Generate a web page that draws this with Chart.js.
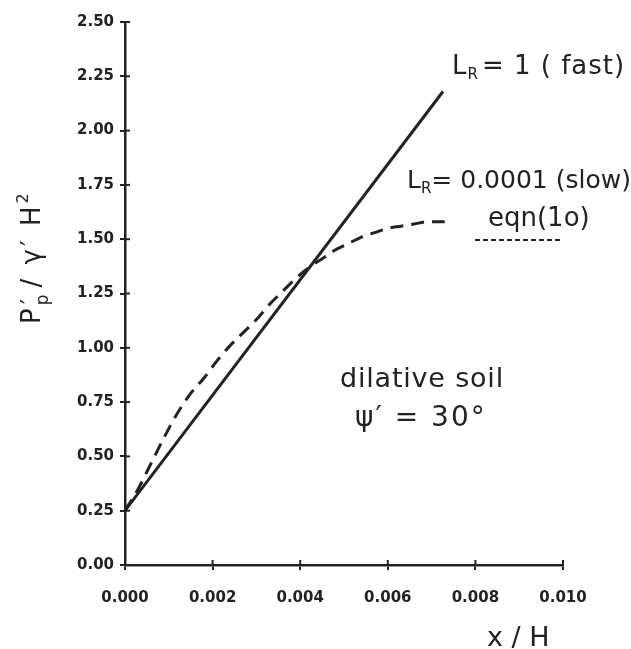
<!DOCTYPE html>
<html>
<head>
<meta charset="utf-8">
<script src="https://cdn.jsdelivr.net/npm/chart.js@4"></script>
<style>
html,body{margin:0;padding:0;background:#fff;}
#wrap{width:631px;height:649px;position:relative;}
</style>
</head>
<body>
<div id="wrap"><canvas id="c"></canvas></div>
<script>
// ---- data ----
const xTicks = [0, 0.002, 0.004, 0.006, 0.008, 0.010];
const yTicks = [0, 0.25, 0.5, 0.75, 1.0, 1.25, 1.5, 1.75, 2.0, 2.25, 2.5];

// L_R = 1 (fast): straight line
const fastX = [0, 0.00726];
const fastY = [0.25, 2.18];

// L_R = 0.0001 (slow): dashed curve
const slowX = [0, 0.0003, 0.0006, 0.0009, 0.0012, 0.0015, 0.0018, 0.0021, 0.0024, 0.0027, 0.0030, 0.0033, 0.0036, 0.0039, 0.0042, 0.0045, 0.0048, 0.0051, 0.0054, 0.0057, 0.0060, 0.0063, 0.0066, 0.0069, 0.0073];
const slowY = [0.25, 0.35, 0.47, 0.59, 0.70, 0.79, 0.86, 0.94, 1.01, 1.07, 1.13, 1.20, 1.26, 1.32, 1.37, 1.41, 1.45, 1.48, 1.51, 1.53, 1.55, 1.56, 1.57, 1.58, 1.58];

const INK = '#222';
const FONT = '"DejaVu Sans", "Liberation Sans", sans-serif';

function pts(xs, ys){ return xs.map((x,i)=>({x:x, y:ys[i]})); }

// draw text made of segments (sub/superscripts)
function drawRich(ctx, x, y, segs, spacing){
  let cx = x;
  ctx.textBaseline = 'alphabetic';
  ctx.textAlign = 'left';
  for (const s of segs){
    ctx.font = (s.w||'normal') + ' ' + s.size + 'px ' + FONT;
    ctx.letterSpacing = (spacing||0) + 'px';
    ctx.fillText(s.t, cx + (s.dx||0), y + (s.dy||0));
    if (!s.noadv) cx += ctx.measureText(s.t).width + (s.extra||0);
  }
  ctx.letterSpacing = '0px';
}

const annot = {
  id: 'annot',
  afterDraw(chart){
    const ctx = chart.ctx;
    const xs = chart.scales.x, ys = chart.scales.y;
    ctx.save();
    // inward half of the cross-shaped tick marks
    ctx.strokeStyle = INK; ctx.lineWidth = 2;
    xTicks.forEach(v=>{ const px = xs.getPixelForValue(v); ctx.beginPath(); ctx.moveTo(px, xs.top); ctx.lineTo(px, xs.top-5); ctx.stroke(); });
    yTicks.forEach(v=>{ const py = ys.getPixelForValue(v); ctx.beginPath(); ctx.moveTo(ys.right, py); ctx.lineTo(ys.right+5, py); ctx.stroke(); });

    ctx.fillStyle = INK;
    // L_R = 1 ( fast)
    drawRich(ctx, 452, 74, [
      {t:'L', size:26}, {t:'R', size:15, dy:5, extra:3}, {t:'= 1 ( fast)', size:26}
    ], 1);
    // L_R= 0.0001 (slow)
    drawRich(ctx, 407, 188, [
      {t:'L', size:25}, {t:'R', size:15, dy:5}, {t:'= 0.0001 (slow)', size:25}
    ], 0);
    // eqn(1o)
    drawRich(ctx, 488, 226, [{t:'eqn(1o)', size:26}], 0);
    // dashed underline
    ctx.setLineDash([5,3]); ctx.lineWidth = 2;
    ctx.beginPath(); ctx.moveTo(475, 240); ctx.lineTo(562, 240); ctx.stroke();
    ctx.setLineDash([]);
    // dilative soil
    drawRich(ctx, 340, 387, [{t:'dilative soil', size:27}], 0.8);
    drawRich(ctx, 355, 426, [{t:'\u03C8\u2032 = 30\u00B0', size:28}], 2);
    // x axis title
    drawRich(ctx, 487, 646, [{t:'x / H', size:27}], 0);
    // y axis title (rotated)
    ctx.save();
    ctx.translate(40, 324);
    ctx.rotate(-Math.PI/2);
    drawRich(ctx, 0, 0, [
      {t:'P', size:26},
      {t:'\u2032', size:24, dy:-2, dx:1, noadv:true},
      {t:'p', size:17, dy:8, extra:4},
      {t:'/ ', size:26},
      {t:'\u03B3\u2032 H', size:26},
      {t:'2', size:16, dy:-12}
    ], 3);
    ctx.restore();
    ctx.restore();
  }
};

new Chart(document.getElementById('c'), {
  type: 'line',
  data: {
    datasets: [
      { label:'L_R = 1 (fast)', data: pts(fastX, fastY), borderColor: INK, borderWidth: 3, pointRadius: 0, fill:false, tension:0 },
      { label:'L_R = 0.0001 (slow)', data: pts(slowX, slowY), borderColor: INK, borderWidth: 3, borderDash:[13,8], pointRadius: 0, fill:false, cubicInterpolationMode:'monotone' }
    ]
  },
  options: {
    responsive: true,
    maintainAspectRatio: false,
    animation: false,
    devicePixelRatio: 1,
    layout: { padding: { top: 22, right: 68, left: 0, bottom: 0 } },
    plugins: { legend: { display:false }, tooltip: { enabled:false } },
    scales: {
      x: {
        type: 'linear', min: 0, max: 0.010,
        afterBuildTicks(s){ s.ticks = xTicks.map(v=>({value:v})); },
        afterFit(s){ s.height = 84; },
        ticks: { callback: v => Number(v).toFixed(3), color: INK, padding: 19, maxRotation:0,
                 font: { family: FONT, size: 15, weight: 'bold' } },
        grid: { drawOnChartArea:false, drawTicks:true, tickLength:5, color: INK, lineWidth:2 },
        border: { display:true, color: INK, width: 2.5 }
      },
      y: {
        type: 'linear', min: 0, max: 2.5,
        afterBuildTicks(s){ s.ticks = yTicks.map(v=>({value:v})); },
        afterFit(s){ s.width = 125; },
        ticks: { callback: v => Number(v).toFixed(2), color: INK, padding: 6,
                 font: { family: FONT, size: 15, weight: 'bold' } },
        grid: { drawOnChartArea:false, drawTicks:true, tickLength:5, color: INK, lineWidth:2 },
        border: { display:true, color: INK, width: 2.5 }
      }
    }
  },
  plugins: [annot]
});
</script>
</body>
</html>
